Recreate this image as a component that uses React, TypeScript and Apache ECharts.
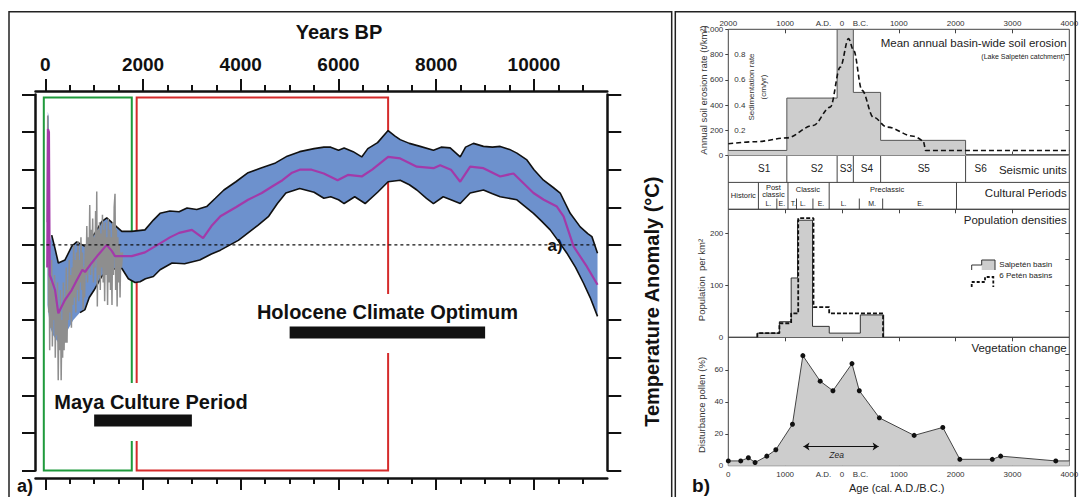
import React, { useEffect, useRef } from 'react';
import * as echarts from 'echarts';

const FONT = '"Liberation Sans", Arial, Helvetica, sans-serif';
const BLUE = '#6d91cd';
const MAGENTA = '#a33aa9';
const GREY = '#8e8e8e';
const GREEN = '#1f9a3c';
const RED = '#d52b2b';
const INK = '#111';
const FILL = '#cdcdcd';
const LINE = '#444';

// ---------------- Panel a: temperature anomaly (Years BP) ----------------
const bpMajorTicks = [0, 2000, 4000, 6000, 8000, 10000];
const bpMinorTicks = [500, 1000, 1500, 2500, 3000, 3500, 4500, 5000, 5500, 6500, 7000, 7500, 8500, 9000, 9500, 10500, 11000];

const spikeUpper = [[45, -0.4], [52, 1.77], [72, 1.7], [100, 0.05]];
const bandUpper = [[132, 0.13], [200, -0.05], [267, -0.24], [404, -0.2], [541, -0.02], [644, 0.04], [813, -0.02], [1018, 0.16], [1155, 0.31], [1258, 0.36], [1360, 0.3], [1462, 0.24], [1565, 0.18], [1769, 0.18], [2040, 0.2], [2212, 0.33], [2349, 0.42], [2550, 0.45], [2738, 0.44], [2900, 0.49], [3100, 0.47], [3302, 0.51], [3480, 0.62], [3655, 0.73], [3900, 0.84], [4150, 0.96], [4400, 1.02], [4712, 1.09], [4950, 1.18], [5206, 1.24], [5500, 1.28], [5700, 1.3], [5841, 1.3], [6000, 1.26], [6115, 1.29], [6300, 1.24], [6475, 1.17], [6600, 1.28], [6800, 1.36], [7015, 1.52], [7150, 1.45], [7262, 1.4], [7450, 1.35], [7670, 1.31], [7943, 1.26], [8100, 1.3], [8285, 1.29], [8490, 1.17], [8600, 1.3], [8761, 1.35], [8966, 1.31], [9150, 1.3], [9308, 1.31], [9500, 1.27], [9650, 1.22], [9855, 1.13], [10000, 1.0], [10195, 0.86], [10400, 0.76], [10536, 0.69], [10741, 0.42], [10946, 0.24], [11100, 0.15], [11185, 0.11], [11300, -0.11]];
const bandLower = [[45, -0.8], [100, -1.1], [160, -1.2], [267, -1.3], [400, -1.2], [574, -1.0], [711, -0.9], [813, -0.86], [900, -0.7], [1000, -0.6], [1155, -0.42], [1258, -0.35], [1400, -0.32], [1565, -0.31], [1700, -0.45], [1837, -0.5], [1939, -0.49], [2050, -0.45], [2212, -0.42], [2349, -0.33], [2594, -0.24], [2850, -0.25], [3161, -0.2], [3400, -0.12], [3584, -0.07], [3725, -0.02], [3950, 0.06], [4150, 0.16], [4350, 0.26], [4571, 0.38], [4750, 0.55], [4923, 0.69], [5206, 0.75], [5500, 0.7], [5700, 0.62], [5841, 0.64], [6000, 0.6], [6115, 0.55], [6332, 0.64], [6545, 0.55], [6800, 0.7], [7015, 0.84], [7262, 0.86], [7450, 0.8], [7603, 0.73], [7800, 0.62], [7943, 0.55], [8142, 0.64], [8300, 0.6], [8490, 0.55], [8694, 0.69], [8966, 0.73], [9150, 0.68], [9308, 0.64], [9650, 0.6], [9990, 0.42], [10150, 0.32], [10331, 0.2], [10500, 0.05], [10673, -0.11], [10850, -0.3], [11014, -0.51], [11150, -0.7], [11300, -0.95]];
const meanLine = [[40, -0.3], [55, 1.54], [75, 1.5], [90, -0.4], [132, -0.47], [200, -0.6], [267, -0.91], [404, -0.73], [541, -0.6], [644, -0.47], [760, -0.33], [813, -0.36], [950, -0.24], [1085, -0.13], [1258, 0.0], [1360, -0.08], [1427, -0.15], [1769, -0.15], [2040, -0.1], [2349, 0.02], [2550, 0.1], [2738, 0.16], [3000, 0.2], [3229, 0.09], [3400, 0.25], [3584, 0.38], [3900, 0.5], [4150, 0.6], [4430, 0.69], [4650, 0.78], [4853, 0.86], [5050, 0.96], [5206, 1.0], [5450, 1.0], [5699, 0.95], [5982, 0.86], [6192, 0.93], [6475, 0.91], [6688, 1.0], [7015, 1.17], [7262, 1.15], [7603, 1.04], [7943, 1.02], [8080, 1.06], [8300, 1.0], [8490, 0.84], [8694, 1.04], [8966, 1.02], [9308, 0.91], [9581, 0.95], [9990, 0.69], [10200, 0.6], [10468, 0.51], [10605, 0.38], [10810, -0.02], [11083, -0.29], [11300, -0.53]];
const greyNoise = [[40, 0.3], [50, 1.72], [60, 0.6], [70, -0.9], [80, -0.3], [90, -1.4], [100, -0.5], [115, -1.1], [130, -0.2], [145, -1.35], [160, -0.6], [175, -1.0], [190, -0.4], [205, -1.5], [220, -0.7], [235, -1.2], [250, -0.5], [265, -1.8], [280, -0.9], [295, -1.4], [310, -0.6], [325, -1.8], [340, -1.0], [355, -1.5], [370, -0.5], [385, -1.4], [400, -0.7], [415, -1.3], [430, -0.3], [445, -1.3], [460, -0.6], [475, -1.0], [490, -0.2], [505, -0.9], [520, -0.4], [535, -1.1], [550, -0.3], [565, -0.8], [580, 0.0], [595, -0.7], [610, -0.2], [625, -0.9], [640, -0.1], [655, -0.6], [670, 0.05], [685, -0.75], [700, -0.2], [715, -0.5], [730, 0.1], [745, -0.6], [760, -0.1], [775, -0.86], [790, -0.3], [805, -0.7], [820, 0.0], [835, -0.4], [850, 0.25], [865, -0.5], [880, 0.1], [895, -0.3], [910, 0.53], [925, -0.4], [940, 0.2], [955, -0.2], [970, 0.35], [985, -0.5], [1000, 0.1], [1015, -0.3], [1030, 0.45], [1045, -0.2], [1053, 0.71], [1065, -0.82], [1080, 0.2], [1095, -0.4], [1110, 0.3], [1125, -0.6], [1140, 0.15], [1155, -0.3], [1170, 0.4], [1185, -0.5], [1200, 0.2], [1215, -0.75], [1230, 0.3], [1245, -0.4], [1260, 0.1], [1275, -0.8], [1290, 0.35], [1305, -0.5], [1320, 0.2], [1335, -0.6], [1350, 0.1], [1365, -0.8], [1380, 0.3], [1395, -0.4], [1410, 0.5], [1427, 0.68], [1440, -0.6], [1455, 0.2], [1470, -0.82], [1485, 0.1], [1500, -0.5], [1515, 0.0], [1530, -0.7], [1545, -0.1], [1560, -0.3], [1580, -0.1]];
const zeroLine = [[-100, 0], [11300, 0]];
const mayaBoxYears = [-30, 1770];
const hcoBoxYears = [1870, 7015];
const boxTop = 1.96;
const boxBottom = -3;
const periodFrom = [5000, 1000];
const periodTo = [9000, 3000];
const periodLevel = [-1.165, -2.335];

// ---------------- Panel b: Petén (cal. A.D./B.C., B.C. positive) ----------------
const ageLabelValues = [-2000, -1000, -325, 0, 325, 1000, 2000, 3000, 4000];
const ageTickValues = [-1000, 0, 1000, 2000, 3000];
const unitBounds = [-2000, -970, -85, 200, 680, 2175, 4000];
const seismicNames = ['S1', 'S2', 'S3', 'S4', 'S5', 'S6'];
const seismicLabelAt = [-1370, -440, 70, 440, 1440, 2440];
const erosionRate = [40, 455, 1000, 500, 120, 8];
const sedimentT = [-2000, -1500, -970, -506, -206, -30, 116, 205, 353, 552, 794, 1258, 1439];
const sedimentV = [93, 110, 140, 238, 383, 700, 926, 833, 516, 304, 225, 153, 106];
const sedimentTailT = [1439, 1469, 4000];
const sedimentTailV = [106, 40, 40];
const culturalBounds = [-1470, -950, -225, 2015];
const culturalSubBounds = [-1146, -800, -511, 305, 716];
const culturalLabels = ['Historic', 'Post\nclassic', 'L.', 'E.', 'Classic', 'T.', 'L.', 'E.', 'Preclassic', 'L.', 'M.', 'E.'];
const culturalLabelT = [-1735, -1206, -1295, -1058, -600, -854, -688, -370, 794, 28, 529, 1381];
const culturalLabelY = [0.53, 0.68, 0.22, 0.22, 0.72, 0.22, 0.22, 0.22, 0.72, 0.22, 0.22, 0.22];
const salpetenT = [-1489, -1101, -894, -782, -518, -224, 323, 734];
const salpetenV = [8, 30, 114, 225, 21, 8, 43, 0];
const petenT = [-1489, -1101, -894, -770, -501, -225, 723];
const petenV = [8, 27, 46, 229, 58, 46, 0];
const pollenT = [-2000, -1781, -1647, -1529, -1323, -1164, -871, -688, -383, -159, 176, 305, 658, 1270, 1774, 2074, 2645, 2792, 3762, 4000];
const pollenV = [3, 3, 5, 2, 6, 10, 26, 69, 53, 47, 64, 47, 30, 19, 24, 4, 4, 6, 3, 3];
const zeaRange = [-677, 645];
const zeaLevel = 12;

function ageFmtTop(v: number) {
  if (v === -325) return 'A.D.';
  if (v === 325) return 'B.C.';
  return String(Math.abs(v));
}
function ageFmtBottom(v: number) {
  if (v === -2000) return '0';
  return ageFmtTop(v);
}

function buildOption(): any {
  const smallLabel = { fontSize: 8, color: '#333', fontFamily: FONT };
  const rBase = { type: 'value', min: -2000, max: 4000, splitLine: { show: false } };
  const aBase = { type: 'value', min: -200, max: 11500, gridIndex: 0, splitLine: { show: false } };
  const tickStyle = { color: INK, width: 2 };
  const noLine = () => ({ show: false, onZero: false });
  const inkLine = () => ({ show: true, onZero: false, lineStyle: { color: INK, width: 2.5 } });

  const stepPoints = (t: number[], v: number[]) => [[t[0], 0], ...t.map((x, i) => [x, v[i]])];
  const erosionPts = unitBounds.slice(0, -1).map((b, i) => [b, erosionRate[i]]).concat([[4000, erosionRate[erosionRate.length - 1]]]);

  const tableLines: number[][] = [[-2000, 1, 4000, 1]];
  unitBounds.slice(1, -1).forEach((b) => tableLines.push([b, 1, b, 2]));
  culturalBounds.forEach((b) => tableLines.push([b, 0, b, 1]));
  culturalSubBounds.forEach((b) => tableLines.push([b, 0, b, 0.4]));

  const tableTexts: { t: number; y: number; text: string; size: number }[] = [];
  seismicNames.forEach((n, i) => tableTexts.push({ t: seismicLabelAt[i], y: 1.5, text: n, size: 10 }));
  culturalLabels.forEach((n, i) => tableTexts.push({ t: culturalLabelT[i], y: culturalLabelY[i], text: n, size: n.length > 3 ? 7.5 : 7 }));

  const txt = (text: string, x: number, y: number, o: any = {}) => ({
    type: 'text', x, y, z: 20, rotation: o.rotation || 0,
    style: {
      text, fill: o.fill || INK, fontFamily: FONT, fontSize: o.size || 12, fontWeight: o.bold ? 'bold' : 'normal',
      fontStyle: o.italic ? 'italic' : 'normal', align: o.align || 'center', verticalAlign: 'middle',
    },
  });

  return {
    animation: false,
    backgroundColor: '#fff',
    textStyle: { fontFamily: FONT },
    grid: [
      { left: 35.5, top: 94.5, width: 571.8, height: 376, show: false, outerBoundsMode: 'none' },
      { left: 728.3, top: 29.3, width: 341, height: 126.2, show: true, borderColor: LINE, borderWidth: 1, outerBoundsMode: 'none' },
      { left: 728.3, top: 155.5, width: 341, height: 53.8, show: true, borderColor: LINE, borderWidth: 1, outerBoundsMode: 'none' },
      { left: 728.3, top: 209.3, width: 341, height: 128, show: true, borderColor: LINE, borderWidth: 1, outerBoundsMode: 'none' },
      { left: 728.3, top: 337.3, width: 341, height: 128.4, show: true, borderColor: LINE, borderWidth: 1, outerBoundsMode: 'none' },
    ],
    xAxis: [
      { ...aBase, position: 'top', offset: 3.5, axisLine: inkLine(),
        axisTick: { length: 12, lineStyle: tickStyle, customValues: bpMajorTicks },
        axisLabel: { customValues: bpMajorTicks, margin: 17, fontSize: 19, fontWeight: 'bold', color: INK, fontFamily: FONT, formatter: (v: number) => String(v) } },
      { ...aBase, position: 'top', offset: 3.5, axisLine: noLine(),
        axisTick: { length: 6, lineStyle: tickStyle, customValues: bpMinorTicks }, axisLabel: { show: false } },
      { ...aBase, position: 'bottom', offset: 7.5, axisLine: inkLine(),
        axisTick: { length: 12, lineStyle: tickStyle, customValues: bpMajorTicks }, axisLabel: { show: false } },
      { ...aBase, position: 'bottom', offset: 7.5, axisLine: noLine(),
        axisTick: { length: 6, lineStyle: tickStyle, customValues: bpMinorTicks }, axisLabel: { show: false } },
      // erosion top (4)
      { ...rBase, gridIndex: 1, position: 'top', axisLine: noLine(),
        axisTick: { inside: true, length: 4, lineStyle: { color: LINE }, customValues: ageTickValues },
        axisLabel: { ...smallLabel, margin: 2, customValues: ageLabelValues, formatter: ageFmtTop } },
      // erosion bottom (5)
      { ...rBase, gridIndex: 1, position: 'bottom', axisLine: noLine(),
        axisTick: { inside: true, length: 4, lineStyle: { color: LINE }, customValues: ageTickValues }, axisLabel: { show: false } },
      // table (6)
      { ...rBase, gridIndex: 2, show: false, axisLine: noLine() },
      // population top (7)
      { ...rBase, gridIndex: 3, position: 'top', axisLine: noLine(),
        axisTick: { inside: true, length: 4, lineStyle: { color: LINE }, customValues: ageTickValues }, axisLabel: { show: false } },
      // vegetation top (8)
      { ...rBase, gridIndex: 4, position: 'top', axisLine: noLine(),
        axisTick: { inside: true, length: 4, lineStyle: { color: LINE }, customValues: ageTickValues }, axisLabel: { show: false } },
      // vegetation bottom (9)
      { ...rBase, gridIndex: 4, position: 'bottom', axisLine: noLine(),
        axisTick: { inside: true, length: 4, lineStyle: { color: LINE }, customValues: ageTickValues },
        axisLabel: { ...smallLabel, margin: 5, customValues: ageLabelValues, formatter: ageFmtBottom } },
    ],
    yAxis: [
      { type: 'value', gridIndex: 0, min: -3, max: 2, interval: 0.5, position: 'left', splitLine: { show: false },
        axisLine: inkLine(), axisTick: { show: true, length: 13.5, lineStyle: tickStyle }, axisLabel: { show: false } },
      { type: 'value', gridIndex: 0, min: -3, max: 2, interval: 0.5, position: 'right', splitLine: { show: false },
        axisLine: inkLine(), axisTick: { show: true, length: 14, lineStyle: tickStyle }, axisLabel: { show: false } },
      // erosion (2,3,4)
      { type: 'value', gridIndex: 1, min: 0, max: 1000, interval: 200, position: 'left', splitLine: { show: false },
        axisLine: noLine(), axisTick: { show: true, length: 3, lineStyle: { color: LINE } }, axisLabel: { ...smallLabel, margin: 5 } },
      { type: 'value', gridIndex: 1, min: 0, max: 1, position: 'left', splitLine: { show: false },
        axisLine: noLine(), axisTick: { show: false },
        axisLabel: { ...smallLabel, inside: true, margin: 6, customValues: [0.2, 0.4, 0.6, 0.8], formatter: (v: number) => v.toFixed(1) } },
      { type: 'value', gridIndex: 1, min: 0, max: 1000, position: 'right', splitLine: { show: false },
        axisLine: noLine(), axisTick: { show: true, inside: true, length: 4, lineStyle: { color: LINE }, customValues: [200, 400, 600, 800] }, axisLabel: { show: false } },
      // table (5)
      { type: 'value', gridIndex: 2, min: 0, max: 2, show: false, axisLine: noLine() },
      // population (6,7)
      { type: 'value', gridIndex: 3, min: 0, max: 246, position: 'left', splitLine: { show: false },
        axisLine: noLine(), axisTick: { show: true, length: 3, lineStyle: { color: LINE }, customValues: [100, 200] },
        axisLabel: { ...smallLabel, margin: 5, customValues: [0, 100, 200] } },
      { type: 'value', gridIndex: 3, min: 0, max: 246, position: 'right', splitLine: { show: false },
        axisLine: noLine(), axisTick: { show: true, inside: true, length: 4, lineStyle: { color: LINE }, customValues: [50, 100, 150, 200] }, axisLabel: { show: false } },
      // vegetation (8,9)
      { type: 'value', gridIndex: 4, min: 0, max: 80.5, position: 'left', splitLine: { show: false },
        axisLine: noLine(), axisTick: { show: true, length: 3, lineStyle: { color: LINE }, customValues: [20, 40, 60] },
        axisLabel: { ...smallLabel, margin: 5, customValues: [0, 20, 40, 60] } },
      { type: 'value', gridIndex: 4, min: 0, max: 80.5, position: 'right', splitLine: { show: false },
        axisLine: noLine(), axisTick: { show: true, inside: true, length: 4, lineStyle: { color: LINE }, customValues: [10, 20, 30, 40, 50, 60, 70] }, axisLabel: { show: false } },
    ],
    series: [
      // ---- panel a ----
      { type: 'custom', xAxisIndex: 0, yAxisIndex: 0, silent: true, z: 1, data: [[0, 0]],
        renderItem: (_p: any, api: any) => ({
          type: 'polygon',
          shape: { points: [...spikeUpper, ...bandUpper, ...bandLower.slice().reverse()].map((p) => api.coord(p)) },
          style: { fill: BLUE },
        }) },
      { type: 'line', xAxisIndex: 0, yAxisIndex: 0, data: bandUpper, symbol: 'none', silent: true, z: 2,
        lineStyle: { color: INK, width: 1.6 } },
      { type: 'line', xAxisIndex: 0, yAxisIndex: 0, data: bandLower.filter((p) => p[0] >= 700), symbol: 'none', silent: true, z: 2,
        lineStyle: { color: INK, width: 1.6 } },
      { type: 'line', xAxisIndex: 0, yAxisIndex: 0, data: greyNoise, symbol: 'none', silent: true, z: 2,
        lineStyle: { color: GREY, width: 1.5 } },
      { type: 'line', xAxisIndex: 0, yAxisIndex: 0, data: meanLine, symbol: 'none', silent: true, z: 2,
        lineStyle: { color: MAGENTA, width: 2.2 } },
      { type: 'line', xAxisIndex: 0, yAxisIndex: 0, data: zeroLine, symbol: 'none', silent: true, z: 3, clip: false,
        lineStyle: { color: INK, width: 1.4, type: [3, 3] },
        markArea: {
          silent: true, label: { show: false },
          data: [
            [{ xAxis: mayaBoxYears[0], yAxis: boxTop, itemStyle: { color: 'rgba(0,0,0,0)', borderColor: GREEN, borderWidth: 2 } },
              { xAxis: mayaBoxYears[1], yAxis: boxBottom }],
            [{ xAxis: hcoBoxYears[0], yAxis: boxTop, itemStyle: { color: 'rgba(0,0,0,0)', borderColor: RED, borderWidth: 2 } },
              { xAxis: hcoBoxYears[1], yAxis: boxBottom }],
          ],
        } },
      { type: 'custom', xAxisIndex: 0, yAxisIndex: 0, silent: true, z: 10,
        data: periodFrom.map((f, i) => [f, periodTo[i], periodLevel[i]]),
        renderItem: (_p: any, api: any) => {
          const a = api.coord([api.value(0), api.value(2)]);
          const b = api.coord([api.value(1), api.value(2)]);
          return { type: 'rect', shape: { x: a[0], y: a[1] - 6, width: b[0] - a[0], height: 12 }, style: { fill: INK } };
        } },
      // ---- panel b: erosion ----
      { type: 'line', xAxisIndex: 4, yAxisIndex: 2, data: erosionPts, step: 'end', symbol: 'none', silent: true,
        lineStyle: { color: '#555', width: 1 }, areaStyle: { color: FILL, opacity: 1 } },
      { type: 'line', xAxisIndex: 4, yAxisIndex: 2, data: sedimentT.map((t, i) => [t, sedimentV[i]]), smooth: 0.35, smoothMonotone: 'x',
        symbol: 'none', silent: true, lineStyle: { color: INK, width: 1.6, type: [5, 3] } },
      { type: 'line', xAxisIndex: 4, yAxisIndex: 2, data: sedimentTailT.map((t, i) => [t, sedimentTailV[i]]),
        symbol: 'none', silent: true, lineStyle: { color: INK, width: 1.6, type: [5, 3] } },
      // ---- table ----
      { type: 'custom', xAxisIndex: 6, yAxisIndex: 5, silent: true, data: tableLines,
        renderItem: (_p: any, api: any) => {
          const a = api.coord([api.value(0), api.value(1)]);
          const b = api.coord([api.value(2), api.value(3)]);
          return { type: 'line', shape: { x1: a[0], y1: a[1], x2: b[0], y2: b[1] }, style: { stroke: LINE, lineWidth: 1 } };
        } },
      { type: 'custom', xAxisIndex: 6, yAxisIndex: 5, silent: true, data: tableTexts.map((d, i) => [d.t, d.y, i]),
        renderItem: (_p: any, api: any) => {
          const d = tableTexts[api.value(2)];
          const c = api.coord([api.value(0), api.value(1)]);
          return { type: 'text', x: c[0], y: c[1],
            style: { text: d.text, fontSize: d.size, fontFamily: FONT, fill: '#222', align: 'center', verticalAlign: 'middle', lineHeight: d.size * 0.95 } };
        } },
      // ---- population ----
      { type: 'line', xAxisIndex: 7, yAxisIndex: 6, data: stepPoints(salpetenT, salpetenV), step: 'end', symbol: 'none', silent: true,
        lineStyle: { color: '#333', width: 1 }, areaStyle: { color: FILL, opacity: 1 } },
      { type: 'line', xAxisIndex: 7, yAxisIndex: 6, data: stepPoints(petenT, petenV), step: 'end', symbol: 'none', silent: true,
        lineStyle: { color: INK, width: 1.8, type: [4, 2] } },
      // ---- vegetation ----
      { type: 'line', xAxisIndex: 9, yAxisIndex: 8, silent: true,
        data: pollenT.map((t, i) => (i === pollenT.length - 1 ? { value: [t, pollenV[i]], symbol: 'none' } : [t, pollenV[i]])),
        symbol: 'circle', symbolSize: 5, itemStyle: { color: INK }, lineStyle: { color: '#444', width: 1 },
        areaStyle: { color: FILL, opacity: 1 },
        markLine: { silent: true, symbol: ['arrow', 'arrow'], symbolSize: 6, label: { show: false },
          lineStyle: { color: INK, width: 1, type: 'solid' },
          data: [[{ coord: [zeaRange[0], zeaLevel] }, { coord: [zeaRange[1], zeaLevel] }]] } },
    ],
    graphic: [
      { type: 'rect', z: 0, shape: { x: 9, y: 11.7, width: 662.7, height: 500 }, style: { fill: 'none', stroke: '#222', lineWidth: 1.5 } },
      { type: 'rect', z: 0, shape: { x: 675.3, y: 11.7, width: 400, height: 500 }, style: { fill: 'none', stroke: '#222', lineWidth: 1.5 } },
      { type: 'rect', z: 5, shape: { x: 245, y: 294, width: 298, height: 59 }, style: { fill: '#fff' } },
      { type: 'rect', z: 5, shape: { x: 46, y: 383, width: 294, height: 58 }, style: { fill: '#fff' } },
      txt('Years BP', 339, 32, { size: 20, bold: true }),
      txt('Holocene Climate Optimum', 387.5, 311.7, { size: 20, bold: true }),
      txt('Maya Culture Period', 151, 401.7, { size: 20, bold: true }),
      txt('a)', 25, 486, { size: 18, bold: true }),
      txt('a)', 555, 245, { size: 17, bold: true }),
      txt('Temperature Anomaly (°C)', 651.7, 301.7, { size: 20, bold: true, rotation: Math.PI / 2 }),
      txt('b)', 701, 485.5, { size: 19, bold: true }),
      txt('Mean annual basin-wide soil erosion', 1066.7, 43.3, { size: 11.5, align: 'right', fill: '#222' }),
      txt('(Lake Salpetén catchment)', 1065, 56.7, { size: 7, align: 'right', fill: '#222' }),
      txt('Seismic units', 1066.7, 170, { size: 11.5, align: 'right', fill: '#222' }),
      txt('Cultural Periods', 1066.7, 193.3, { size: 11.5, align: 'right', fill: '#222' }),
      txt('Population densities', 1066.7, 220, { size: 11.5, align: 'right', fill: '#222' }),
      txt('Vegetation change', 1066.7, 348.3, { size: 11.5, align: 'right', fill: '#222' }),
      txt('Annual soil erosion rate (t/km²)', 703.3, 90, { size: 9.5, rotation: Math.PI / 2, fill: '#333' }),
      txt('Sedimentation rate', 751.7, 87, { size: 8, rotation: Math.PI / 2, fill: '#333' }),
      txt('(cm/yr)', 763.3, 87, { size: 8, rotation: Math.PI / 2, fill: '#333' }),
      txt('Population  per km²', 701.7, 280, { size: 9.5, rotation: Math.PI / 2, fill: '#333' }),
      txt('Disturbance pollen (%)', 701.7, 405, { size: 9.5, rotation: Math.PI / 2, fill: '#333' }),
      txt('Age (cal. A.D./B.C.)', 896.7, 488.3, { size: 11, fill: '#222' }),
      txt('Zea', 836.7, 455, { size: 8.5, italic: true, fill: '#222' }),
      { type: 'rect', z: 20, shape: { x: 981.7, y: 260, width: 13.3, height: 10 }, style: { fill: FILL } },
      { type: 'polyline', z: 21, shape: { points: [[971.7, 270], [971.7, 265], [981.7, 265], [981.7, 260], [995, 260], [995, 270]] },
        style: { fill: 'none', stroke: '#333', lineWidth: 1 } },
      { type: 'polyline', z: 21, shape: { points: [[971.7, 287], [971.7, 282], [985, 282], [985, 277], [993.3, 277], [993.3, 287]] },
        style: { fill: 'none', stroke: INK, lineWidth: 1.8, lineDash: [3, 2] } },
      txt('Salpetén basin', 999.3, 264.3, { size: 8, align: 'left', fill: '#222' }),
      txt('6 Petén basins', 999.3, 275.5, { size: 8, align: 'left', fill: '#222' }),
    ],
  };
}

export default function App() {
  const ref = useRef<HTMLDivElement>(null);
  useEffect(() => {
    const chart = echarts.init(ref.current as HTMLDivElement, null, { renderer: 'svg' });
    chart.setOption(buildOption());
    return () => chart.dispose();
  }, []);
  return <div ref={ref} style={{ position: 'fixed', left: 0, top: 0, width: 1079, height: 497, background: '#fff' }} />;
}
